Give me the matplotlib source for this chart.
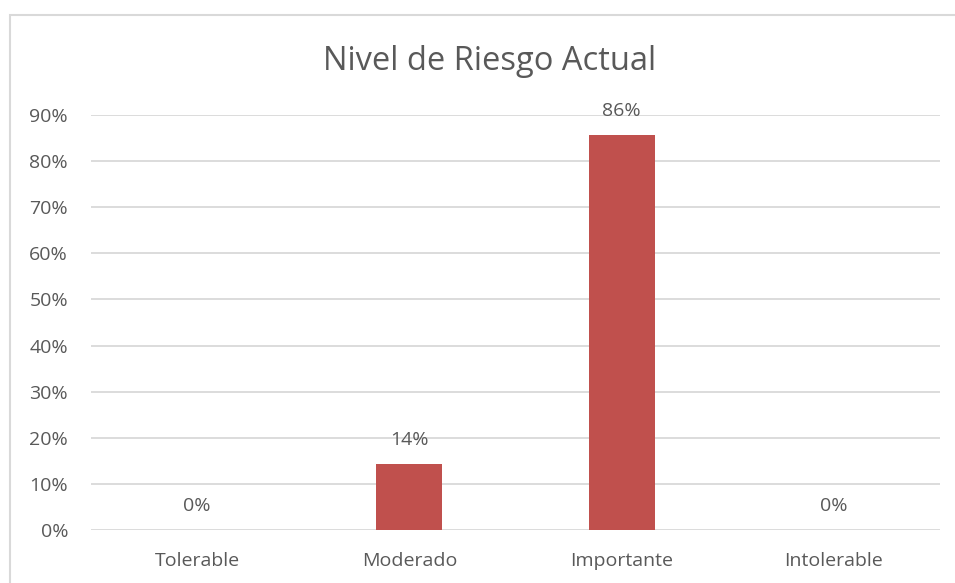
import matplotlib
matplotlib.use('Agg')
import matplotlib.pyplot as plt
from matplotlib.patches import Rectangle
from matplotlib.ticker import PercentFormatter

categories = ['Tolerable', 'Moderado', 'Importante', 'Intolerable']
values = [0.0, 1 / 7, 6 / 7, 0.0]
labels = ['0%', '14%', '86%', '0%']
yticks = [0, 0.1, 0.2, 0.3, 0.4, 0.5, 0.6, 0.7, 0.8, 0.9]

text_color = '#595959'
grid_color = '#D9D9D9'
bar_color = '#C0504D'

plt.rcParams['font.family'] = ['Open Sans', 'DejaVu Sans']

fig = plt.figure(figsize=(9.55, 5.83), dpi=100)
ax = fig.add_axes([91 / 955, 1 - 530 / 583, (940 - 91) / 955, (530 - 115) / 583])

# chart frame (goes off the right/bottom edge like the reference crop)
fig.patches.append(Rectangle((9.5 / 955, -0.1), 1.2, 1.1 - 15.5 / 583,
                             transform=fig.transFigure, fill=False,
                             edgecolor=grid_color, linewidth=1.5))

x = range(len(categories))
ax.bar(x, values, width=0.31, color=bar_color, zorder=3)
for i, (v, lab) in enumerate(zip(values, labels)):
    ax.annotate(lab, (i, v), xytext=(0, 24), textcoords='offset pixels',
                ha='center', va='center', fontsize=14, color=text_color)

ax.set_xlim(-0.5, len(categories) - 0.5)
ax.set_ylim(0, 0.9)
ax.set_yticks(yticks)
ax.yaxis.set_major_formatter(PercentFormatter(1.0, decimals=0))
ax.set_xticks(list(x))
ax.set_xticklabels(categories)
ax.tick_params(axis='both', length=0, labelsize=14, colors=text_color)
ax.tick_params(axis='x', pad=16)
ax.tick_params(axis='y', pad=16.5)
ax.grid(axis='y', color=grid_color, linewidth=1.3, zorder=0)
for s in ax.spines.values():
    s.set_visible(False)

fig.text(490 / 955, 1 - 62 / 583, 'Nivel de Riesgo Actual', ha='center', va='center',
         fontsize=23.5, color=text_color)

fig.savefig('out.png', dpi=100)
